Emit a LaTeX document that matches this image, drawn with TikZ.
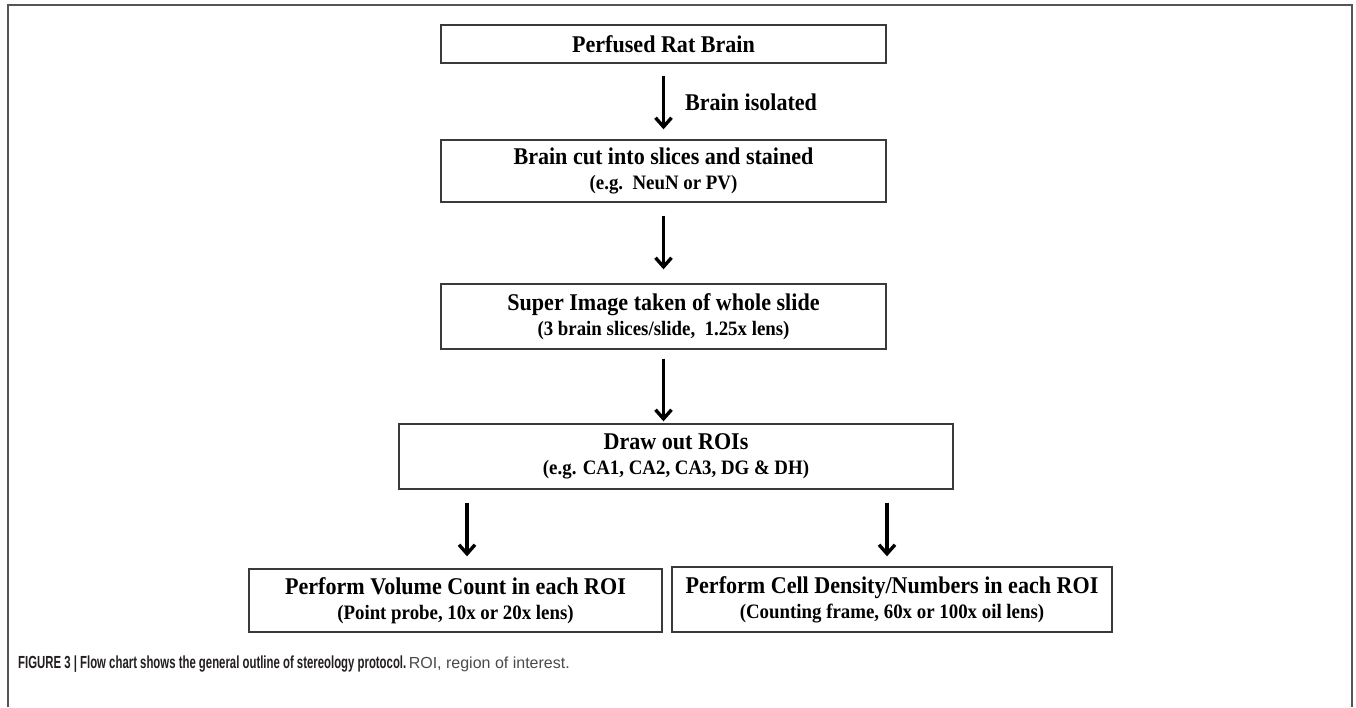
\documentclass[tikz,border=0pt]{standalone}
\usepackage{fontspec}
\setmainfont{Liberation Serif}
\newfontfamily\boxfont[FakeStretch=0.92]{Liberation Serif}
\newfontfamily\capboldfont[FakeStretch=0.65]{Liberation Sans}
\newfontfamily\capregfont{Liberation Sans}
\usetikzlibrary{arrows.meta}
\definecolor{boxline}{HTML}{3A3A3A}
\definecolor{framecol}{HTML}{555555}
\definecolor{captxt}{HTML}{231F20}
\definecolor{capgray}{HTML}{4A4A4A}
\tikzset{
  flowbox/.style={draw=boxline, line width=1.4pt, inner sep=0pt, align=center,
    font=\boxfont\bfseries\fontsize{24}{25}\selectfont},
  arr/.style={line width=3.2pt, -{Straight Barb[length=9pt,width=16pt,line width=3.4pt]}},
  frameline/.style={draw=framecol, line width=2pt},
}
\newcommand{\subline}[1]{{\fontsize{20.5}{25}\selectfont #1}}
\begin{document}
\begin{tikzpicture}[x=1pt,y=-1pt]
\useasboundingbox[fill=white] (0,0) rectangle (1356,707);
\draw[frameline] (8,707) -- (8,5) -- (1352,5) -- (1352,707);

\node[flowbox, minimum width=445pt, minimum height=38pt] (b1) at (663.5,44) {Perfused Rat Brain};
\node[flowbox, minimum width=445pt, minimum height=62pt] (b2) at (663.5,171)
  {Brain cut into slices and stained\\\subline{(e.g.\ \ NeuN or PV)}};
\node[flowbox, minimum width=445pt, minimum height=65pt] (b3) at (663.5,316.5)
  {Super Image taken of whole slide\\\subline{(3 brain slices/slide,\ \ 1.25x lens)}};
\node[flowbox, minimum width=554pt, minimum height=65pt] (b4) at (676,456.5)
  {Draw out ROIs\\\subline{(e.g. CA1, CA2, CA3, DG \& DH)}};
\node[flowbox, minimum width=413pt, minimum height=63pt] (b5) at (455.5,600.5)
  {Perform Volume Count in each ROI\\\subline{(Point probe, 10x or 20x lens)}};
\node[flowbox, minimum width=440pt, minimum height=65pt] (b6) at (892,599.5)
  {Perform Cell Density/Numbers in each ROI\\\subline{(Counting frame, 60x or 100x oil lens)}};

\draw[arr, shorten <=12pt, shorten >=10pt] (b1.south) -- node[midway, anchor=west, inner sep=0pt, xshift=20pt, yshift=-1pt,
  font=\boxfont\bfseries\fontsize{24}{25}\selectfont] (lbl) {Brain isolated} (b2.north);
\draw[arr, shorten <=13pt, shorten >=14pt] (b2.south) -- (b3.north);
\draw[arr, shorten <=9pt, shorten >=2pt] (b3.south) -- (b3.south |- b4.north);
\draw[arr, shorten <=13pt, shorten >=12pt] ([xshift=11.5pt]b5.north |- b4.south) -- ([xshift=11.5pt]b5.north);
\draw[arr, shorten <=13pt, shorten >=10pt] ([xshift=-5pt]b6.north |- b4.south) -- ([xshift=-5pt]b6.north);

\node[anchor=base west, inner sep=0pt] (cap) at (18,668)
  {\textcolor{captxt}{\capboldfont\bfseries\fontsize{17.5}{20}\selectfont FIGURE 3 | Flow chart shows the general outline of stereology protocol.}\ \textcolor{capgray}{\capregfont\fontsize{16}{20}\selectfont ROI, region of interest.}};
\end{tikzpicture}
\end{document}
